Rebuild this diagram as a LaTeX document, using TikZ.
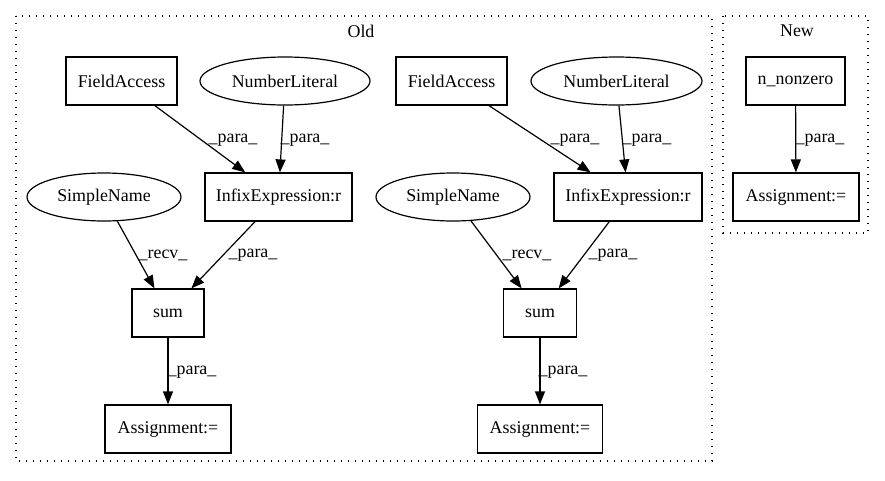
\documentclass[tikz,border=0pt]{standalone}
\usepackage{fontspec}
\setmainfont{Liberation Serif}
\usetikzlibrary{arrows.meta,shapes.geometric}
\begin{document}
\begin{tikzpicture}[x=1pt,y=-1pt,
  every node/.style={font=\fontsize{17.9}{21}\selectfont, inner sep=0pt},
  box/.style={draw, line width=1.2pt, rectangle, minimum height=48pt},
  oval/.style={draw, line width=1.2pt, ellipse, minimum height=48pt},
  edge/.style={draw, line width=1.2pt, -{Triangle[length=13pt,width=10pt]}},
  cluster/.style={draw, line width=1.3pt, dash pattern=on 1.3pt off 5.7pt}
]
\useasboundingbox (0,0) rectangle (885,480);
% clusters
\draw[cluster] (16,16) rectangle (712,461);
\draw[cluster] (723,16) rectangle (868,233);
\node (oldlab) at (361,31) {Old};
\node (newlab) at (797,31) {New};
% Old, left group
\node[box, minimum width=111pt] (fa1) at (121.5,81) {FieldAccess};
\node[oval, minimum width=170pt] (nl1) at (285,81) {NumberLiteral};
\node[box, minimum width=147pt] (ix1) at (278.5,197) {InfixExpression:r};
\node[oval, minimum width=154pt] (sn1) at (104,197) {SimpleName};
\node[box, minimum width=72pt] (sum1) at (168,313) {sum};
\node[box, minimum width=126pt] (as1) at (168,429) {Assignment:=};
% Old, right group
\node[box, minimum width=111pt] (fa2) at (451.5,81) {FieldAccess};
\node[oval, minimum width=171pt] (nl2) at (616.5,81) {NumberLiteral};
\node[box, minimum width=148pt] (ix2) at (628,197) {InfixExpression:r};
\node[oval, minimum width=154pt] (sn2) at (453,197) {SimpleName};
\node[box, minimum width=73pt] (sum2) at (540,313) {sum};
\node[box, minimum width=125pt] (as2) at (540,429) {Assignment:=};
% New
\node[box, minimum width=99pt] (nz) at (795.5,81) {n\_nonzero};
\node[box, minimum width=126pt] (as3) at (796,197) {Assignment:=};
% edges
\draw[edge] (fa1) -- (ix1);
\draw[edge] (nl1) -- (ix1);
\draw[edge] (sn1) -- (sum1);
\draw[edge] (ix1) -- (sum1);
\draw[edge] (sum1) -- (as1);
\draw[edge] (fa2) -- (ix2);
\draw[edge] (nl2) -- (ix2);
\draw[edge] (sn2) -- (sum2);
\draw[edge] (ix2) -- (sum2);
\draw[edge] (sum2) -- (as2);
\draw[edge] (nz) -- (as3);
% edge labels
\node (e1) at (233,140) {\_para\_};
\node (e2) at (305,140) {\_para\_};
\node (e3) at (163,255) {\_recv\_};
\node (e4) at (253,255) {\_para\_};
\node (e5) at (192,372) {\_para\_};
\node (e6) at (575,140) {\_para\_};
\node (e7) at (647,140) {\_para\_};
\node (e8) at (527,255) {\_recv\_};
\node (e9) at (613,255) {\_para\_};
\node (e10) at (563,372) {\_para\_};
\node (e11) at (820,140) {\_para\_};
\end{tikzpicture}
\end{document}
